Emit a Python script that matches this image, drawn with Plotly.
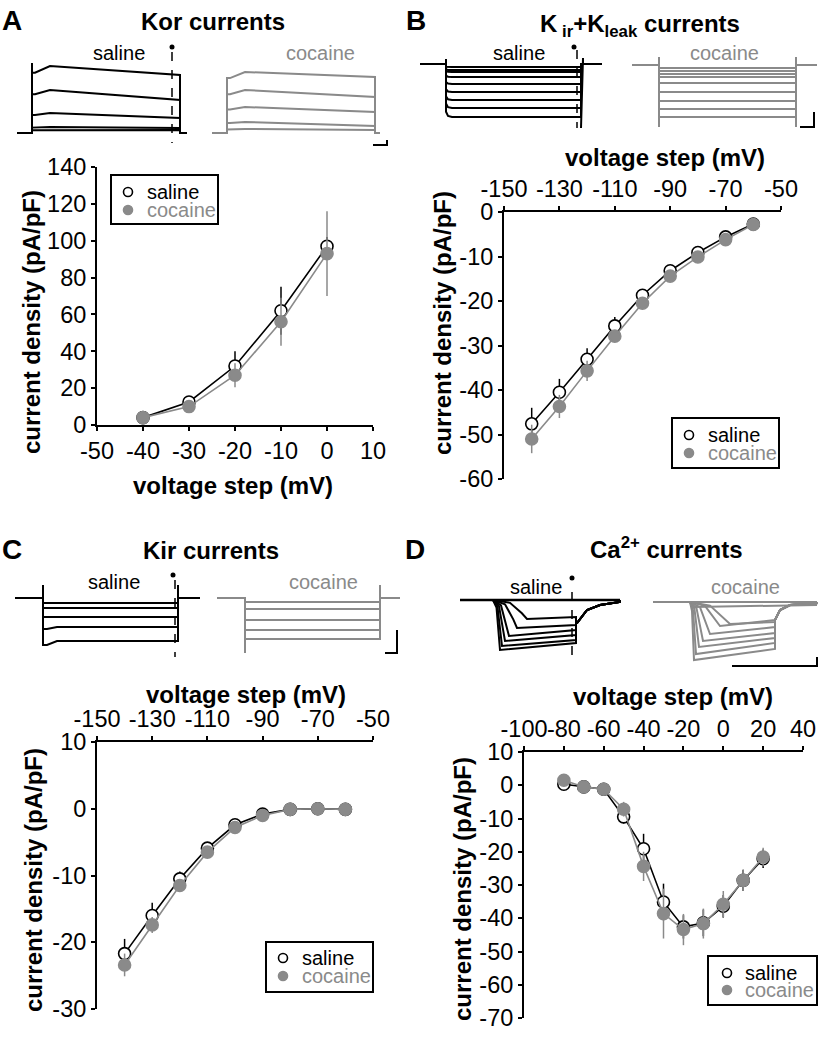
import plotly.graph_objects as go

W, H = 836, 1037
FONT = "Liberation Sans, Arial, Helvetica, sans-serif"
BLACK = "#000000"
GRAY = "#8a8a8a"

# ---------------- I-V data ----------------
A_voltage = [-40, -30, -20, -10, 0]
A_saline = [4.0, 12.5, 32.0, 62.0, 97.0]
A_saline_err = [1.0, 2.0, 8.0, 13.0, 5.0]
A_cocaine = [4.0, 10.0, 27.0, 56.0, 93.0]
A_cocaine_err = [1.0, 1.5, 6.5, 13.0, 23.0]

B_voltage = [-140, -130, -120, -110, -100, -90, -80, -70, -60]
B_saline = [-47.6, -40.5, -33.1, -25.6, -18.7, -13.2, -9.1, -5.6, -2.7]
B_saline_err = [3.6, 3.0, 2.5, 2.0, 1.0, 1.0, 0.8, 0.6, 0.5]
B_cocaine = [-51.0, -43.7, -35.7, -27.9, -20.5, -14.4, -10.1, -6.2, -2.8]
B_cocaine_err = [3.2, 2.6, 2.3, 1.3, 1.0, 1.0, 0.8, 0.6, 0.5]

C_voltage = [-140, -130, -120, -110, -100, -90, -80, -70, -60]
C_saline = [-21.7, -16.0, -10.5, -5.9, -2.4, -0.8, -0.1, 0.0, -0.1]
C_saline_err = [2.2, 1.9, 1.1, 0.8, 0.5, 0.3, 0.2, 0.2, 0.2]
C_cocaine = [-23.4, -17.4, -11.5, -6.5, -2.8, -1.0, -0.1, 0.0, -0.1]
C_cocaine_err = [1.7, 1.2, 0.8, 0.6, 0.5, 0.3, 0.2, 0.2, 0.2]

D_voltage = [-80, -70, -60, -50, -40, -30, -20, -10, 0, 10, 20]
D_saline = [0.3, -0.5, -1.2, -9.5, -19.1, -35.1, -42.6, -41.4, -36.4, -28.6, -22.1]
D_saline_err = [0.5, 0.5, 0.5, 2.0, 4.5, 5.5, 3.5, 4.0, 3.4, 3.2, 2.8]
D_cocaine = [1.5, -0.5, -1.2, -7.2, -24.4, -38.6, -43.4, -41.6, -35.8, -28.6, -21.6]
D_cocaine_err = [0.5, 0.5, 0.5, 2.2, 4.4, 7.5, 4.7, 4.5, 4.0, 3.2, 2.8]

# tick labels
A_xticks = [-50, -40, -30, -20, -10, 0, 10]
A_yticks = [0, 20, 40, 60, 80, 100, 120, 140]
B_xticks = [-150, -130, -110, -90, -70, -50]
B_yticks = [0, -10, -20, -30, -40, -50, -60]
C_xticks = [-150, -130, -110, -90, -70, -50]
C_yticks = [10, 0, -10, -20, -30]
D_xticks = [-100, -80, -60, -40, -20, 0, 20, 40]
D_yticks = [10, 0, -10, -20, -30, -40, -50, -60, -70]

# ---------------- example recordings (inset traces) ----------------
# Panel A: Kor, outward steps: level after activation, level at step end
A_sal_peak = [67, 43, 20, 6, 3]
A_sal_end = [58, 33, 15, 5, 3]
A_coc_peak = [61, 43, 26, 11, 4]
A_coc_end = [56, 36, 21, 7, 3]
# Panel B: Kir + Kleak, inward steps
B_sal_level = [-3, -6, -8, -13, -20, -28, -36, -44, -53]
B_coc_level = [-4, -7, -10, -13, -19, -28, -37, -45, -53]
# Panel C: Kir, inward steps (initial extra dip)
C_sal_level = [-5, -10, -19, -29, -43]
C_sal_dip = [0, 0, 0, 2, 4]
C_coc_level = [-4, -11, -22, -32, -41]
# Panel D: Ca2+, peak, end-of-step level, activation delay
D_sal_peak = [-50, -46, -41, -36, -28, -19]
D_sal_end = [-43, -40, -35, -30, -25, -17]
D_sal_delay = [7, 9, 12, 16, 24, 34]
D_coc_peak = [-60, -54, -47, -41, -34, -26, -24]
D_coc_end = [-49, -43, -38, -33, -27, -20, -22]
D_coc_delay = [4, 6, 9, 13, 20, 30, 40]
D_sal_tail_t = [0, 1, 11, 24, 44]
D_sal_tail_i = [-23, -23, -10, -5, -2]
D_coc_tail_t = [0, 5, 15, 42]
D_coc_tail_i = [-20, -10, -5, -3]

fig = go.Figure()

# ---------------- axes ----------------
common = dict(showline=True, linecolor=BLACK, linewidth=2, ticks="outside",
              ticklen=4, tickwidth=2, tickcolor=BLACK, showgrid=False,
              zeroline=False, fixedrange=True, automargin=False, tickangle=0,
              tickfont=dict(family=FONT, size=23.5, color=BLACK))

panels = [
    # n, x px domain, y px domain (top,bottom), xrange, yrange, xticks, yticks, side
    (1, (97, 373), (167, 425), [-50, 10], [0, 140], A_xticks, A_yticks, "bottom"),
    (2, (504, 781), (212, 479), [-150, -50], [-60, 0], B_xticks, B_yticks, "top"),
    (3, (97, 373), (742, 1009), [-150, -50], [-30, 10], C_xticks, C_yticks, "top"),
    (4, (524, 803), (752, 1018), [-100, 40], [-70, 10], D_xticks, D_yticks, "top"),
]
layout_axes = {}
for n, xd, yd, xr, yr, xt, yt, side in panels:
    s = "" if n == 1 else str(n)
    layout_axes["xaxis" + s] = dict(domain=[xd[0] / W, xd[1] / W], range=xr,
                                    anchor="y" + s, side=side, tickvals=xt,
                                    ticktext=[str(v) for v in xt], **common)
    layout_axes["yaxis" + s] = dict(domain=[1 - yd[1] / H, 1 - yd[0] / H], range=yr,
                                    anchor="x" + s, tickvals=yt,
                                    ticktext=[str(v) for v in yt], **common)

# inset axes (time units ~ px, current relative to baseline)
insets = [
    (5, (10, 395), (30, 150), [0, 385], [-17, 103]),
    (6, (415, 825), (35, 135), [0, 410], [-71, 29]),
    (7, (10, 405), (570, 660), [0, 395], [-62, 28]),
    (8, (440, 825), (570, 672), [0, 385], [-72, 30]),
]
for n, xd, yd, xr, yr in insets:
    layout_axes["xaxis%d" % n] = dict(domain=[xd[0] / W, xd[1] / W], range=xr,
                                      anchor="y%d" % n, visible=False, fixedrange=True,
                                      automargin=False)
    layout_axes["yaxis%d" % n] = dict(domain=[1 - yd[1] / H, 1 - yd[0] / H], range=yr,
                                      anchor="x%d" % n, visible=False, fixedrange=True,
                                      automargin=False)


# ---------------- I-V curves ----------------
def add_iv(xv, ys, es, n, is_saline):
    s = "" if n == 1 else str(n)
    col = BLACK if is_saline else GRAY
    fig.add_trace(go.Scatter(
        x=xv, y=ys, mode="lines+markers", xaxis="x" + s, yaxis="y" + s,
        line=dict(color=col, width=1.6),
        marker=dict(size=12, color="white" if is_saline else GRAY,
                    line=dict(color=col, width=1.6)),
        error_y=dict(type="data", array=es, color=col, thickness=1.5, width=0),
        cliponaxis=False, showlegend=False, hoverinfo="skip"))


for n, xv, sy, se, cy, ce in [
    (1, A_voltage, A_saline, A_saline_err, A_cocaine, A_cocaine_err),
    (2, B_voltage, B_saline, B_saline_err, B_cocaine, B_cocaine_err),
    (3, C_voltage, C_saline, C_saline_err, C_cocaine, C_cocaine_err),
    (4, D_voltage, D_saline, D_saline_err, D_cocaine, D_cocaine_err),
]:
    add_iv(xv, sy, se, n, True)
    add_iv(xv, cy, ce, n, False)


# ---------------- inset traces ----------------
def line(t, i, n, color, width=2.0, dash=None):
    fig.add_trace(go.Scatter(x=t, y=i, xaxis="x%d" % n, yaxis="y%d" % n, mode="lines",
                             line=dict(color=color, width=width, dash=dash),
                             cliponaxis=False, showlegend=False, hoverinfo="skip"))


def dot(t, i, n):
    fig.add_trace(go.Scatter(x=[t], y=[i], xaxis="x%d" % n, yaxis="y%d" % n, mode="markers",
                             marker=dict(size=5, color=BLACK), cliponaxis=False,
                             showlegend=False, hoverinfo="skip"))


# Panel A (Kor)
for on, off, b0, b1, peaks, ends, col in [(22, 170, 7, 177, A_sal_peak, A_sal_end, BLACK),
                                          (217, 365, 202, 370, A_coc_peak, A_coc_end, GRAY)]:
    for p, e in zip(peaks, ends):
        line([b0, on, on, on + 3, on + 18, off, off, b1],
             [0, 0, 0.9 * p, 0.9 * p, p, e, 0, 0], 5, col)
line([22, 22], [0, 70], 5, BLACK)
line([162, 162], [81, -10], 5, BLACK, 1.5, "dash")
dot(162, 86, 5)
line([363, 377, 377], [-12, -12, -7], 5, BLACK, 2)

# Panel B (Kir + Kleak)
for L in B_sal_level:
    line([5, 31, 31, 33, 37, 166, 166, 187], [0, 0, 0.9 * L, 0.98 * L, L, L, 0, 0], 6, BLACK)
line([31, 31], [0, 5], 6, BLACK)
line([166, 168, 168, 172], [-64, 6, 0, 0], 6, BLACK)
line([162, 162], [14, -64], 6, BLACK, 1.5, "dash")
dot(159, 17, 6)
for L in B_coc_level:
    line([217, 244, 244, 381, 381, 402], [-1, -1, L, L, -1, -1], 6, GRAY)
line([244, 244], [7, -63], 6, GRAY)
line([381, 381], [7, -63], 6, GRAY)
line([385, 399, 399], [-63, -63, -48], 6, BLACK, 2)

# Panel C (Kir)
for L, d in zip(C_sal_level, C_sal_dip):
    line([5, 33, 33, 37, 47, 168, 168, 190], [0, 0, L - d, L - d, L, L, 0, 0], 7, BLACK)
line([33, 33], [0, 13], 7, BLACK)
line([168, 168], [0, 13], 7, BLACK)
line([165, 165], [18, -59], 7, BLACK, 1.5, "dash")
dot(163, 23, 7)
for L in C_coc_level:
    line([207, 235, 235, 370, 370, 390], [0, 0, L, L, 0, 0], 7, GRAY)
line([235, 235], [0, -55], 7, GRAY)
line([370, 370], [0, 13], 7, GRAY)
line([375, 387, 387], [-55, -55, -32], 7, BLACK, 2)


# Panel D (Ca2+)
def ca_trace(on, off, b0, b1, L, E, d, tt, ti, base, col):
    t = [b0, on, on + 0.5 * d, on + 0.85 * d, on + d, off] + [off + x for x in tt] + [b1]
    i = [base, base, base + 0.15 * L, base + 0.7 * L, L, E] + list(ti) + [base]
    line(t, i, 8, col)


for L, E, d in zip(D_sal_peak, D_sal_end, D_sal_delay):
    ca_trace(53, 136, 20, 180, L, E, d, D_sal_tail_t, D_sal_tail_i, 0, BLACK)
line([20, 180], [0, 0], 8, BLACK, 2.5)
line([132, 132], [8, -60], 8, BLACK, 1.5, "dash")
dot(132, 22, 8)
for L, E, d in zip(D_coc_peak, D_coc_end, D_coc_delay):
    ca_trace(250, 335, 213, 377, L, E, d, D_coc_tail_t, D_coc_tail_i, -2, GRAY)
line([213, 377], [-2, -2], 8, GRAY, 2)
line([253, 377], [-7, -5], 8, GRAY, 2)
line([292, 377, 377], [-66, -66, -57], 8, BLACK, 2)

# ---------------- annotations ----------------
annotations = []


def ann(text, x, y, size, color=BLACK, bold=False, angle=0, xanchor="center"):
    annotations.append(dict(text=text, x=x / W, y=1 - y / H, xref="paper", yref="paper",
                            showarrow=False, xanchor=xanchor, yanchor="middle",
                            textangle=angle,
                            font=dict(family=FONT, size=size, color=color,
                                      weight="bold" if bold else "normal")))


ann("A", 12, 21, 28, bold=True)
ann("Kor currents", 213, 22, 24, bold=True)
ann("B", 416, 21, 28, bold=True)
ann("K<sub> ir</sub>+K<sub>leak</sub> currents", 640, 25, 24, bold=True)
ann("C", 12, 549, 28, bold=True)
ann("Kir currents", 211, 550, 24, bold=True)
ann("D", 415, 549, 28, bold=True)
ann("Ca<sup>2+</sup> currents", 666, 548, 24, bold=True)

ann("voltage step (mV)", 233, 485, 24, bold=True)
ann("current density (pA/pF)", 32, 322, 24, bold=True, angle=-90)
ann("voltage step (mV)", 665, 157, 24, bold=True)
ann("current density (pA/pF)", 442, 323, 24, bold=True, angle=-90)
ann("voltage step (mV)", 246, 694, 24, bold=True)
ann("current density (pA/pF)", 33, 880, 24, bold=True, angle=-90)
ann("voltage step (mV)", 673, 696, 24, bold=True)
ann("current density (pA/pF)", 462, 889, 24, bold=True, angle=-90)

# inset labels
for x, y, t, c in [(119, 53, "saline", BLACK), (320, 53, "cocaine", GRAY),
                   (519, 53, "saline", BLACK), (724, 53, "cocaine", GRAY),
                   (114, 582, "saline", BLACK), (323, 582, "cocaine", GRAY),
                   (536, 587, "saline", BLACK), (745, 587, "cocaine", GRAY)]:
    ann(t, x, y, 20, color=c)

# ---------------- legends (box + symbols + text) ----------------
shapes = []
legends = [
    ((111, 175, 218, 224), 128, 192, 210, 145),
    ((672, 418, 779, 468), 689, 435, 453, 706),
    ((266, 942, 373, 992), 283, 958, 976, 300),
    ((708, 956, 817, 1005), 727, 973, 990, 743),
]
for (x0, y0, x1, y1), cx, ys, yc, tx in legends:
    shapes.append(dict(type="rect", xref="paper", yref="paper", x0=x0 / W, x1=x1 / W,
                       y0=1 - y1 / H, y1=1 - y0 / H, line=dict(color=BLACK, width=2),
                       fillcolor="white", layer="below"))
    for cy, fill, lc in [(ys, "white", BLACK), (yc, GRAY, GRAY)]:
        shapes.append(dict(type="circle", xref="paper", yref="paper", xsizemode="pixel",
                           ysizemode="pixel", xanchor=cx / W, yanchor=1 - cy / H,
                           x0=-4.5, x1=4.5, y0=-4.5, y1=4.5,
                           line=dict(color=lc, width=1.6), fillcolor=fill))
    ann("saline", tx, ys, 20, color=BLACK, xanchor="left")
    ann("cocaine", tx, yc, 20, color=GRAY, xanchor="left")

fig.update_layout(width=W, height=H,
                  margin=dict(l=0, r=0, t=0, b=0, pad=0, autoexpand=False),
                  paper_bgcolor="white", plot_bgcolor="white", showlegend=False,
                  font=dict(family=FONT, color=BLACK),
                  annotations=annotations, shapes=shapes, **layout_axes)

fig.write_html("out.html", config={"displayModeBar": False},
               post_script="document.body.style.margin='0px';document.body.style.padding='0px';")
